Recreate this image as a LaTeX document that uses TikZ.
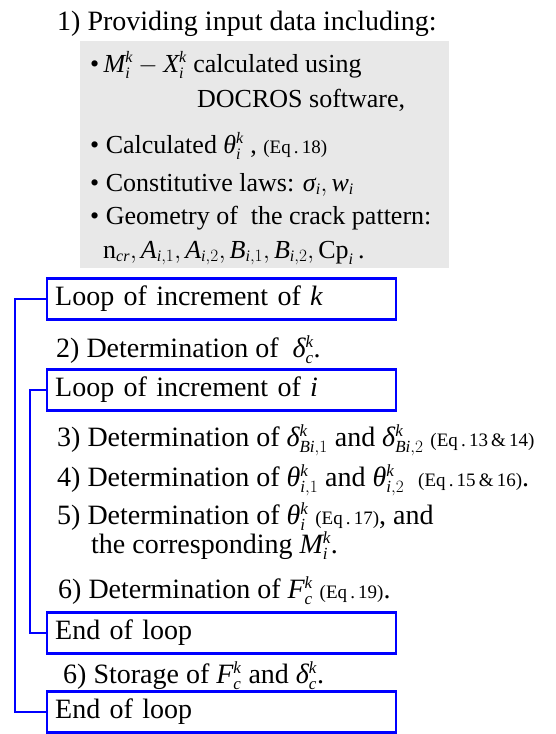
\documentclass[tikz,border=0pt]{standalone}
\usepackage{fontspec}
\setmainfont{Liberation Serif}
\newfontfamily\tmfam[NFSSFamily=tms]{Liberation Serif}
\DeclareSymbolFont{tletters}{TU}{tms}{m}{it}
\def\setml#1{\Umathcode`#1=7 \symtletters `#1\relax}
\setml M\setml X\setml A\setml B\setml C\setml F\setml i\setml k\setml c\setml r\setml w
\Umathchardef\theta=0 \symtletters "03B8\relax
\Umathchardef\delta=0 \symtletters "03B4\relax
\Umathchardef\sigma=0 \symtletters "03C3\relax
\DeclareMathSizes{28}{28}{17}{13}
\DeclareMathSizes{26}{26}{16}{12}
\usepackage{tikz}

\newcommand{\eqsm}[1]{{\fontsize{19}{22}\selectfont #1}}

\begin{document}
\begin{tikzpicture}[x=1pt, y=-1pt,
    every node/.style={font=\fontsize{28}{34}\selectfont},
    txt/.style={anchor=base west, inner sep=0pt},
    bul/.style={txt, font=\fontsize{26}{31}\selectfont},
    lp/.style={draw=blue, line width=2.4pt, anchor=west, minimum width=349pt,
               minimum height=41pt, inner xsep=8pt, text width=333pt, align=left},
    br/.style={draw=blue, line width=2.4pt},
  ]
  \useasboundingbox (0,0) rectangle (556,734);
  \fill[black!9] (80,41) rectangle (449,268);
  \node[txt] (s1) at (57,30) {1) Providing input data including:};
  \node[bul] (b1) at (90,72) {\textbullet\,$M_i^k-X_i^k$ calculated using};
  \node[bul] (b1x) at (197,107) {DOCROS software,};
  \node[bul] (b2) at (90,153) {\textbullet\ Calculated $\theta_i^k$ , \eqsm{(Eq\,.\,18)}};
  \node[bul] (b3) at (90,191) {\textbullet\ Constitutive laws: $\sigma_i, w_i$};
  \node[bul] (b4) at (90,224) {\textbullet\ Geometry of\ \ the crack pattern:};
  \node[bul] (b4x) at (103,258) {$\mathrm{n}_{cr}, A_{i,1}, A_{i,2}, B_{i,1}, B_{i,2}, \mathrm{Cp}_i$\,.};
  \node[lp] (kbeg) at (46,299) {Loop of increment of $k$};
  \node[txt] (s2) at (56,357) {2) Determination of\ \ $\delta_c^k$.};
  \node[lp] (ibeg) at (46,390) {Loop of increment of $i$};
  \node[txt] (s3) at (57,446) {3) Determination of $\delta_{Bi,1}^k$ and $\delta_{Bi,2}^k$ \eqsm{(Eq\,.\,13\,\&\,14)}};
  \node[txt] (s4) at (57,486) {4) Determination of $\theta_{i,1}^k$ and $\theta_{i,2}^k$\ \ \eqsm{(Eq\,.\,15\,\&\,16)}.};
  \node[txt] (s5) at (57,524) {5) Determination of $\theta_i^k$ \eqsm{(Eq\,.\,17)}, and};
  \node[txt] (s5x) at (91,553) {the corresponding $M_i^k$.};
  \node[txt] (s6) at (58,598) {6) Determination of $F_c^k$ \eqsm{(Eq\,.\,19)}.};
  \node[lp] (iend) at (46,633) {End of loop};
  \node[txt] (s7) at (63,683) {6) Storage of $F_c^k$ and $\delta_c^k$.};
  \node[lp] (kend) at (46,712) {End of loop};
  \draw[br] (kbeg.west) -- ++(-31,0) |- (kend.west);
  \draw[br] (ibeg.west) -- ++(-16,0) |- (iend.west);
\end{tikzpicture}
\end{document}
